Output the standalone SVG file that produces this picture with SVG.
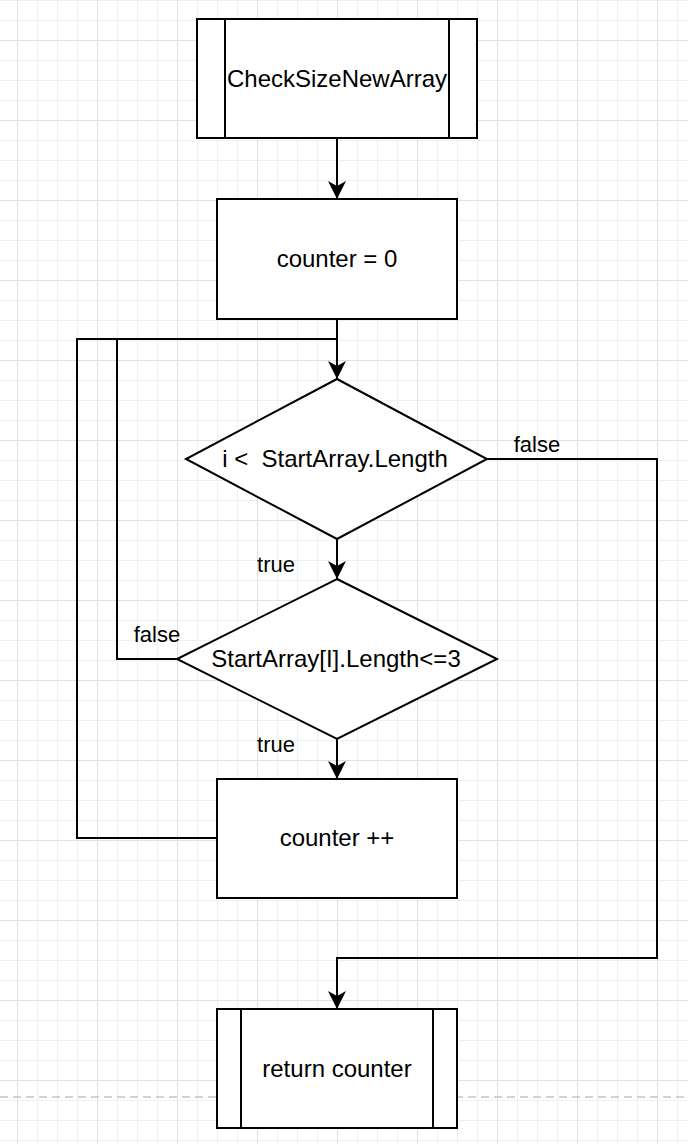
<svg xmlns="http://www.w3.org/2000/svg" width="688" height="1144" viewBox="0 0 688 1144">
  <defs>
    <pattern id="minor" x="17" y="0" width="20" height="20" patternUnits="userSpaceOnUse">
      <path d="M0.5,0 V20 M0,0.5 H20" fill="none" stroke="#f0f0f0" stroke-width="1"/>
    </pattern>
    <pattern id="major" x="17" y="40" width="80" height="80" patternUnits="userSpaceOnUse">
      <path d="M0.5,0 V80 M0,0.5 H80" fill="none" stroke="#e0e0e0" stroke-width="1"/>
    </pattern>
    <marker id="arrow" markerUnits="userSpaceOnUse" markerWidth="20" markerHeight="20" viewBox="-19 -10 20 20" refX="0" refY="0" orient="auto">
      <path d="M0,0 L-18,-9 L-13,0 L-18,9 Z" fill="#000"/>
    </marker>
    <style>
      .node { fill: #ffffff; stroke: #000000; stroke-width: 2; }
      .inner { fill: none; stroke: #000000; stroke-width: 2; }
      .edge { fill: none; stroke: #000000; stroke-width: 2; }
      .txt { font-family: "Liberation Sans", Arial, Helvetica, sans-serif; font-size: 24px; fill: #000000; text-anchor: middle; }
      .lbl { font-family: "Liberation Sans", Arial, Helvetica, sans-serif; font-size: 22px; fill: #000000; text-anchor: middle; }
    </style>
  </defs>

  <rect x="0" y="0" width="688" height="1144" fill="#ffffff"/>
  <rect x="0" y="0" width="688" height="1144" fill="url(#minor)"/>
  <rect x="0" y="0" width="688" height="1144" fill="url(#major)"/>
  <line x1="0" y1="1097" x2="688" y2="1097" stroke="#c4c4c4" stroke-width="1.5" stroke-dasharray="8,5"/>

  <g id="connectors">
    <path class="edge" d="M337,138 V199" marker-end="url(#arrow)"/>
    <path class="edge" d="M337,319 V379" marker-end="url(#arrow)"/>
    <path class="edge" d="M487,459 H657 V958 H337 V1009" marker-end="url(#arrow)"/>
    <path class="edge" d="M337,539 V579" marker-end="url(#arrow)"/>
    <path class="edge" d="M177,659 H117 V339 H337"/>
    <path class="edge" d="M337,739 V779" marker-end="url(#arrow)"/>
    <path class="edge" d="M217,838 H77 V339 H337"/>
    <text class="lbl" x="537" y="452">false</text>
    <text class="lbl" x="276" y="572">true</text>
    <text class="lbl" x="157" y="642">false</text>
    <text class="lbl" x="276" y="752">true</text>
  </g>

  <g id="start">
    <rect class="node" x="197" y="19" width="280" height="119"/>
    <line class="inner" x1="225" y1="19" x2="225" y2="138"/>
    <line class="inner" x1="449" y1="19" x2="449" y2="138"/>
    <text class="txt" x="337" y="87">CheckSizeNewArray</text>
  </g>

  <g id="init">
    <rect class="node" x="217" y="199" width="240" height="120"/>
    <text class="txt" x="337" y="267">counter = 0</text>
  </g>

  <g id="cond1">
    <polygon class="node" points="337,379 487,459 337,539 186,459"/>
    <text class="txt" x="335" y="467" xml:space="preserve">i &lt;  StartArray.Length</text>
  </g>

  <g id="cond2">
    <polygon class="node" points="337,579 497,659 337,739 177,659"/>
    <text class="txt" x="336" y="667">StartArray[I].Length&lt;=3</text>
  </g>

  <g id="incr">
    <rect class="node" x="217" y="779" width="240" height="119"/>
    <text class="txt" x="337" y="846">counter ++</text>
  </g>

  <g id="end">
    <rect class="node" x="217" y="1009" width="240" height="119"/>
    <line class="inner" x1="241" y1="1009" x2="241" y2="1128"/>
    <line class="inner" x1="433" y1="1009" x2="433" y2="1128"/>
    <text class="txt" x="337" y="1077">return counter</text>
  </g>
</svg>
